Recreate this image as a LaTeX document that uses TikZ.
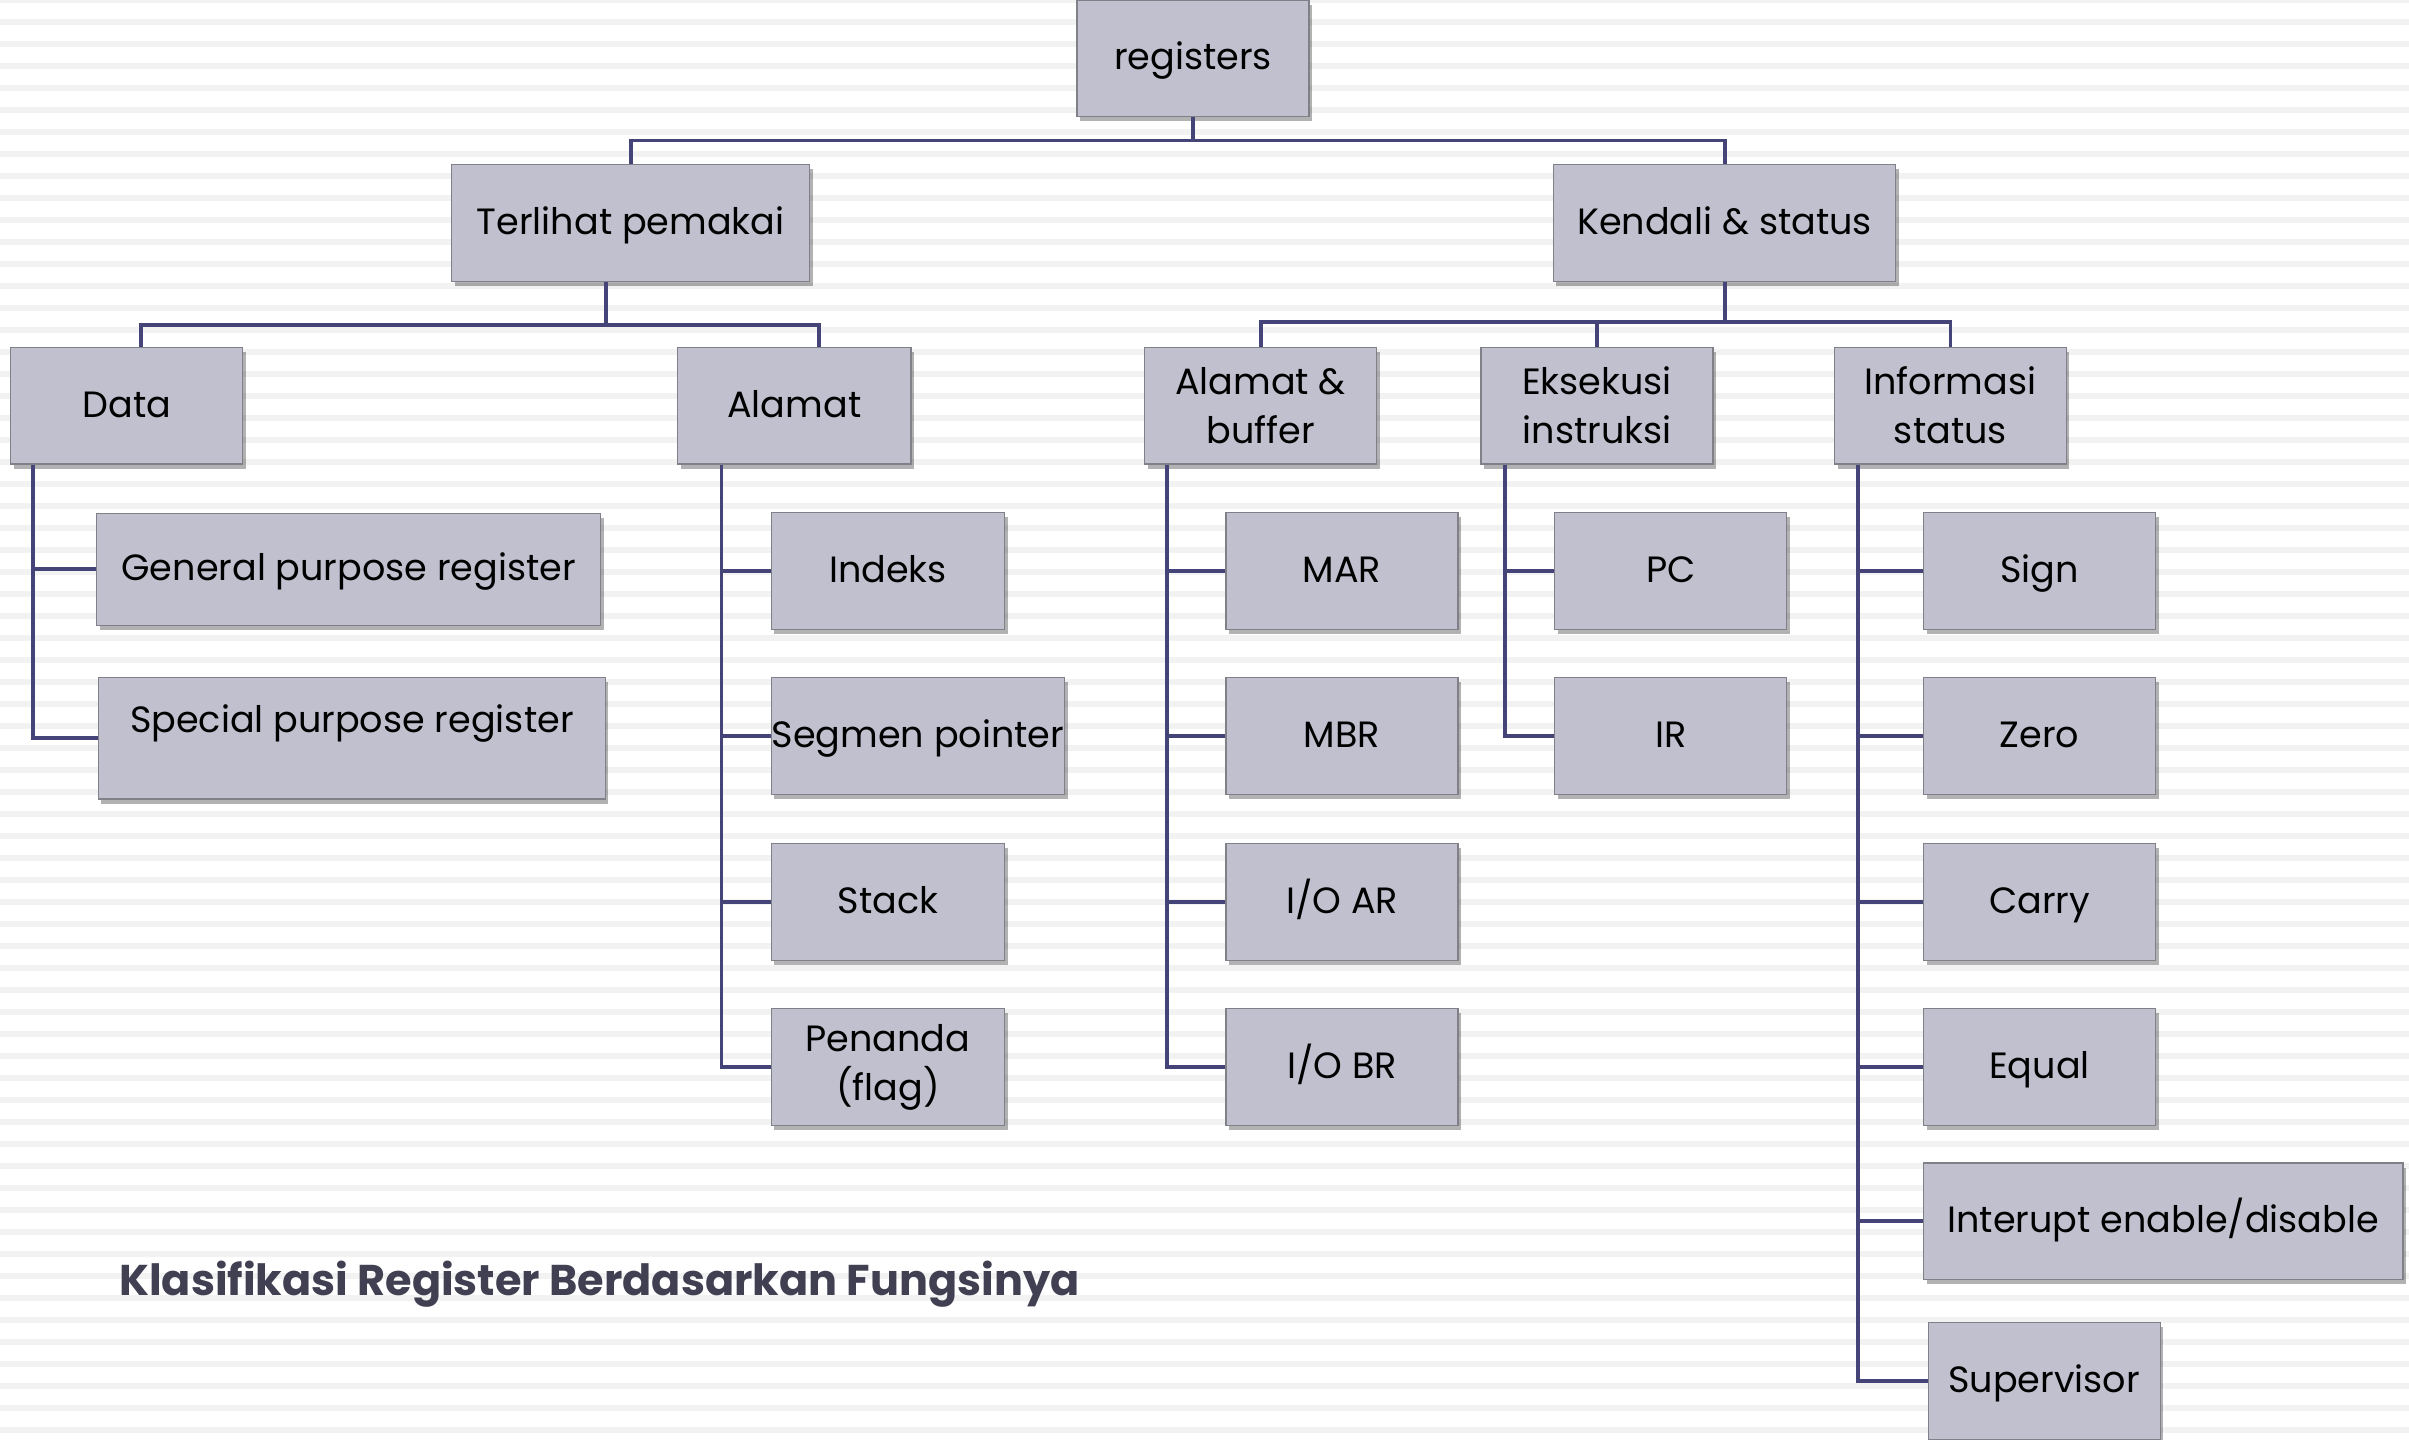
\documentclass[tikz,border=0pt]{standalone}
\usepackage{fontspec}
\setmainfont{Poppins}
\usetikzlibrary{shadows}
\definecolor{boxfill}{RGB}{192,192,206}
\definecolor{boxline}{RGB}{128,128,136}
\definecolor{linkcol}{RGB}{68,68,120}
\definecolor{stripecol}{RGB}{242,242,242}
\definecolor{titlecol}{RGB}{64,64,82}
\tikzset{
  regbox/.style={draw=boxline, line width=0.8pt, fill=boxfill, minimum width=151pt, minimum height=76pt,
    inner sep=2pt, align=center, font=\fontsize{23.8}{32}\selectfont,
    drop shadow={shadow xshift=2pt, shadow yshift=-3pt, opacity=0.3, fill=black}},
  oneline/.style={regbox, text height=19pt, text depth=4pt},
  link/.style={draw=linkcol, line width=2.5pt},
}
\begin{document}
\begin{tikzpicture}[x=1pt,y=-1pt]
\useasboundingbox (0,0) rectangle (1568,937);
\fill[white] (0,0) rectangle (1568,937);
\foreach \i in {0,...,66}
  \fill[stripecol] (0,\i*14.32-1.7) rectangle (1568,\i*14.32+1.7);

% top levels
\node[oneline] (reg) at (776.5,38) {registers};
\node[oneline, minimum width=233pt] (terl) at (410.5,145) {Terlihat pemakai};
\node[oneline, minimum width=223pt] (kend) at (1122.5,145) {Kendali \& status};

\node[oneline] (data) at (82.5,264) {Data};
\node[oneline, minimum width=152pt] (alamat) at (517,264) {Alamat};
\node[regbox] (ab) at (820.5,264) {Alamat \&\\buffer};
\node[regbox] (ek) at (1039.5,264) {Eksekusi\\instruksi};
\node[regbox] (inf) at (1269.5,264) {Informasi\\status};

% data
\node[oneline, minimum width=328pt, minimum height=73pt] (gpr) at (227,370.5) {General purpose register};
\node[oneline, minimum width=330pt, minimum height=79pt, text depth=26pt] (spr) at (229,480.5) {Special purpose register};

% alamat
\node[oneline, minimum width=152pt] (idx) at (578,371.5) {Indeks};
\node[oneline, minimum width=191pt, inner sep=0pt] (seg) at (597.5,479) {Segmen pointer};
\node[oneline, minimum width=152pt] (stk) at (578,587) {Stack};
\node[regbox, minimum width=152pt] (pen) at (578,694.5) {Penanda\\(flag)};

% alamat & buffer
\node[oneline] (mar) at (873.5,371.5) {MAR};
\node[oneline] (mbr) at (873.5,479) {MBR};
\node[oneline] (ioar) at (873.5,587) {I/O AR};
\node[oneline] (iobr) at (873.5,694.5) {I/O BR};

% eksekusi
\node[oneline] (pc) at (1087.5,371.5) {PC};
\node[oneline] (ir) at (1087.5,479) {IR};

% informasi status
\node[oneline] (sign) at (1327.5,371.5) {Sign};
\node[oneline] (zero) at (1327.5,479) {Zero};
\node[oneline] (carry) at (1327.5,587) {Carry};
\node[oneline] (equal) at (1327.5,694.5) {Equal};
\node[oneline, minimum width=312pt] (intr) at (1408,795) {Interupt enable/disable};
\node[oneline] (sup) at (1330.5,899) {Supervisor};

% links
\draw[link] (reg.south) -- ++(0,15) coordinate (j1);
\draw[link] (terl.north) |- (j1) -| (kend.north);
\draw[link] ([xshift=-16pt]terl.south) -- ++(0,28) coordinate (j2);
\draw[link] ([xshift=9.5pt]data.north) |- (j2) -| ([xshift=16pt]alamat.north);
\draw[link] (kend.south) -- ++(0,26) coordinate (j3);
\draw[link] (ab.north) |- (j3) -| (inf.north);
\draw[link] (ek.north) -- (ek.north |- j3);

\coordinate (sd) at ([xshift=15pt]data.south west);
\coordinate (sa) at ([xshift=29pt]alamat.south west);
\coordinate (sb) at ([xshift=15pt]ab.south west);
\coordinate (se) at ([xshift=16pt]ek.south west);
\coordinate (si) at ([xshift=16pt]inf.south west);
\draw[link] (sd) |- (spr.west);
\draw[link] (gpr.west) -- (gpr.west -| sd);
\draw[link] (sa) |- (pen.west);
\foreach \c in {idx,seg,stk}
  \draw[link] (\c.west) -- (\c.west -| sa);
\draw[link] (sb) |- (iobr.west);
\foreach \c in {mar,mbr,ioar}
  \draw[link] (\c.west) -- (\c.west -| sb);
\draw[link] (se) |- (ir.west);
\draw[link] (pc.west) -- (pc.west -| se);
\draw[link] (si) |- (sup.west);
\foreach \c in {sign,zero,carry,equal,intr}
  \draw[link] (\c.west) -- (\c.west -| si);

\node[anchor=west, text=titlecol, font=\fontsize{28}{34}\selectfont\bfseries] (judul) at (74,836) {Klasifikasi Register Berdasarkan Fungsinya};
\end{tikzpicture}
\end{document}
